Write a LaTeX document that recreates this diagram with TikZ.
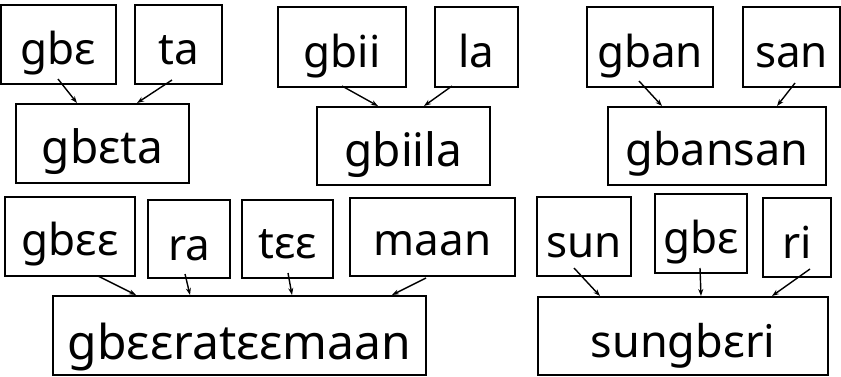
\documentclass[tikz,border=0pt]{standalone}
\usepackage{fontspec}
\setmainfont{Noto Sans}
\usetikzlibrary{arrows.meta}
\begin{document}
\begin{tikzpicture}[x=1pt,y=-1pt,
  wbox/.style={draw=black,line width=2pt,inner sep=0pt,text height=40pt,text depth=0pt,
    font=\fontsize{44}{50}\selectfont},
  midbox/.style={wbox,font=\fontsize{46}{52}\selectfont},
  bigbox/.style={wbox,font=\fontsize{48}{54}\selectfont},
  link/.style={line width=1.4pt,-{Stealth[length=7pt,width=5pt]}}]
\useasboundingbox (0,0) rectangle (841,376);
% row 1
\node[wbox,minimum width=115pt,minimum height=79pt] (A1) at (58.5,44.5) {gbɛ};
\node[wbox,minimum width=87pt,minimum height=79pt] (A2) at (178.5,44.5) {ta};
\node[midbox,minimum width=173pt,minimum height=79pt] (A) at (102.5,143.5) {gbɛta};
\node[wbox,minimum width=128pt,minimum height=80pt] (B1) at (342,47) {gbii};
\node[wbox,minimum width=83pt,minimum height=80pt] (B2) at (476.5,47) {la};
\node[midbox,minimum width=173pt,minimum height=78pt] (B) at (403.5,146) {gbiila};
\node[wbox,minimum width=126pt,minimum height=80pt] (C1) at (650,47) {gban};
\node[wbox,minimum width=97pt,minimum height=80pt] (C2) at (791.5,47) {san};
\node[wbox,font=\fontsize{45}{52}\selectfont,text height=38pt,minimum width=218pt,minimum height=78pt] (C) at (717,146) {gbansan};
% row 2
\node[wbox,text height=37pt,minimum width=130pt,minimum height=79pt] (D1) at (70,236.5) {gbɛɛ};
\node[wbox,text height=42pt,minimum width=82pt,minimum height=78pt] (D2) at (189,239) {ra};
\node[wbox,text height=38pt,minimum width=91pt,minimum height=78pt] (D3) at (287.5,239) {tɛɛ};
\node[wbox,text height=36pt,minimum width=165pt,minimum height=78pt] (D4) at (432.5,237) {maan};
\node[bigbox,text height=48pt,minimum width=373pt,minimum height=79pt] (D) at (239.5,335.5) {gbɛɛratɛɛmaan};
\node[wbox,text height=41pt,minimum width=94pt,minimum height=79pt] (E1) at (584,236.5) {sun};
\node[wbox,text height=39pt,minimum width=92pt,minimum height=79pt] (E2) at (701,233.5) {gbɛ};
\node[wbox,text height=41pt,minimum width=68pt,minimum height=79pt] (E3) at (797,237.5) {ri};
\node[wbox,font=\fontsize{45}{52}\selectfont,text height=42pt,minimum width=290pt,minimum height=78pt] (E) at (683,336) {sungbɛri};
% connectors
\draw[link] ([xshift=-0.5pt,yshift=6pt]A1.south) -- ([xshift=-25.5pt]A.north);
\draw[link] ([xshift=-6.5pt,yshift=5pt]A2.south) -- ([xshift=34.5pt]A.north);
\draw[link] ([xshift=0pt,yshift=2pt]B1.south) -- ([xshift=-25.5pt]B.north);
\draw[link] ([xshift=-24.5pt,yshift=2pt]B2.south) -- ([xshift=20.5pt]B.north);
\draw[link] ([xshift=-11pt,yshift=7pt]C1.south) -- ([xshift=-55pt]C.north);
\draw[link] ([xshift=3.5pt,yshift=5pt]C2.south) -- ([xshift=60pt]C.north);
\draw[link] ([xshift=28pt,yshift=1pt]D1.south) -- ([xshift=-103.5pt]D.north);
\draw[link] ([xshift=-4pt,yshift=5pt]D2.south) -- ([xshift=-49.5pt]D.north);
\draw[link] ([xshift=0.5pt,yshift=6pt]D3.south) -- ([xshift=52.5pt]D.north);
\draw[link] ([xshift=-6.5pt,yshift=-1pt]D4.south) -- ([xshift=152.5pt]D.north);
\draw[link] ([xshift=-10pt,yshift=9pt]E1.south) -- ([xshift=-83pt]E.north);
\draw[link] ([xshift=-1pt,yshift=6pt]E2.south) -- ([xshift=18pt]E.north);
\draw[link] ([xshift=13pt,yshift=9pt]E3.south) -- ([xshift=89pt]E.north);
\end{tikzpicture}
\end{document}
